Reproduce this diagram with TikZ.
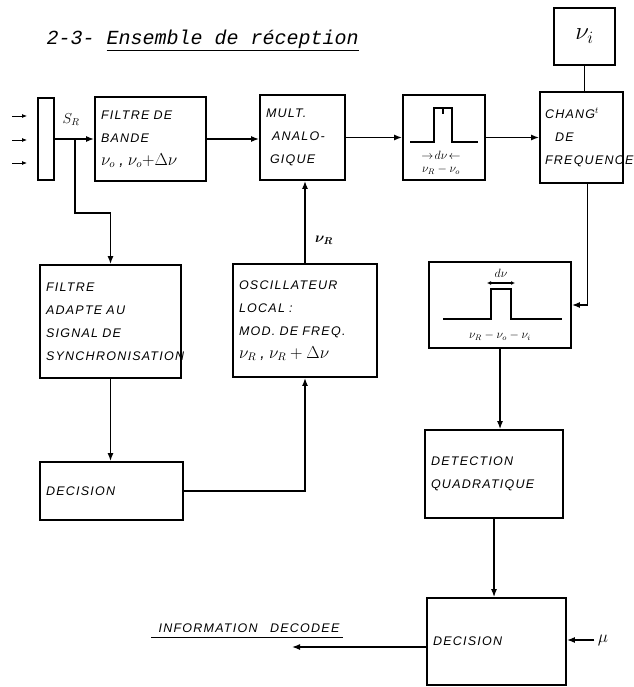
\documentclass[tikz,border=0pt]{standalone}
\usepackage{bm}
\usepackage{fontspec}
\setmainfont{Liberation Sans}
\newfontfamily\titlefont{Liberation Mono}
\newfontfamily\handfont{Liberation Sans}[LetterSpace=10]
\usetikzlibrary{arrows.meta, positioning, calc}

\begin{document}
\begin{tikzpicture}[x=1pt, y=-1pt,
    >={Latex[length=8pt,width=6pt]},
    every node/.style={font=\handfont\itshape\fontsize{12.5}{23}\selectfont},
    blk/.style={draw, rectangle, line width=1.8pt, inner sep=6pt, align=left},
    link/.style={->, line width=1.3pt},
    spec/.style={line width=1.1pt},
    small/.style={font=\fontsize{12}{12}\selectfont}
  ]
  \useasboundingbox (0,0) rectangle (633,687);

  \node[anchor=base west, font=\titlefont\itshape\fontsize{20}{20}\selectfont] (title) at (43,45)
    {2-3- \underline{Ensemble de réception}};

  \node[blk, minimum width=16, minimum height=82, inner sep=0pt] (bar) at (46,139) {};
  \node (sr) at (71,120) {\Large$S_R$};
  \node[blk, text width=99, minimum height=84] (filtre) at (150.5,139)
    {FILTRE DE\\ BANDE\\ \fontsize{16}{23}\selectfont$\nu_o$ , $\nu_o{+}\Delta\nu$};
  \node[blk, text width=73, minimum height=85] (mult) at (302.5,137.5)
    {MULT.\\ \hspace{6pt}ANALO-\\ \hspace{4pt}GIQUE};
  \node[blk, minimum width=82, minimum height=85] (spec1) at (444,137.5) {};
  \node[blk, text width=73, inner sep=5pt, minimum height=91] (chang) at (581.5,137.5)
    {CHANG$^{t}$\\ \hspace{10pt}DE\\ FREQUENCE};
  \node[blk, minimum width=61, minimum height=57, font=\fontsize{24}{24}\selectfont] (nui) at (584.5,36.5) {$\nu_i$};

  \node[blk, text width=129, minimum height=113] (adapt) at (110.5,321.5)
    {FILTRE\\ ADAPTE AU\\ SIGNAL DE\\ SYNCHRONISATION};
  \node[blk, text width=132, minimum height=113] (osc) at (305,320.5)
    {OSCILLATEUR\\ LOCAL :\\ MOD. DE FREQ.\\ \fontsize{16}{23}\selectfont$\nu_R$ , $\nu_R+\Delta\nu$};
  \node (nur) at (324,240) {\Large$\bm{\nu}_{\bm{R}}$};
  \node[blk, minimum width=142, minimum height=86] (spec2) at (500,305) {};

  \node[blk, text width=131, minimum height=58] (dec1) at (111.5,491) {DECISION};
  \node[blk, text width=126, minimum height=88] (detect) at (494,474) {DETECTION\\ QUADRATIQUE};
  \node[blk, text width=127, minimum height=87] (dec2) at (496.5,641.5) {DECISION};
  \node (mu) at (603,640) {\LARGE$\mu$};
  \node[anchor=base west] (info) at (155,632) {INFORMATION\quad DECODEE};
  \coordinate (out) at (292,647);

  \draw[spec] (410,142) -- (434,142) -- (434,108) -- (452,108) -- (452,142) -- (478,142);
  \draw[spec] (443,108) -- (443,114);
  \node[small] (dnu) at (441,155) {$\rightarrow\! d\nu\! \leftarrow$};
  \node[small] (dfreq) at (441,170) {$\nu_R - \nu_o$};

  \draw[spec] (443,319) -- (491,319) -- (491,289) -- (511,289) -- (511,319) -- (562,319);
  \draw[spec, <->, >={Latex[length=4pt,width=4pt]}] (487,283) -- (515,283);
  \node[small] (dnu2) at (501,273) {\large$d\nu$};
  \node (dfreq2) at (500,336) {\large$\nu_R - \nu_o - \nu_i$};

  \foreach \dy in {-23,1,24}
    \draw[->, line width=0.9pt, >={Latex[length=5pt,width=4pt]}] ($(bar.west)+(-25,\dy)$) -- ++(15,0);
  \coordinate (split) at (75,139);
  \coordinate (jog) at (75,213);
  \draw[link] (bar) -- (filtre);
  \draw[link] (split) -- (jog) -| (adapt.north);
  \draw[link] (filtre.east) -- (filtre.east -| mult.west);
  \draw[link] (mult.east) -- (mult.east -| spec1.west);
  \draw[link] (spec1.east) -- (spec1.east -| chang.west);
  \draw[line width=1.8pt] (nui.south) -- (nui.south |- chang.north);
  \draw[link] ([xshift=6pt]chang.south) |- (spec2.east);
  \draw[link] (spec2.south) -- (spec2.south |- detect.north);
  \draw[link] (detect.south) -- (detect.south |- dec2.north);
  \draw[link] (adapt.south) -- (adapt.south |- dec1.north);
  \draw[link, line width=2.4pt] (dec1.east) -| (osc.south);
  \draw[link] (osc.north) -- (osc.north |- mult.south);
  \draw[link] (dec2.west |- out) -- (out);
  \draw[link] (mu) -- (mu -| dec2.east);
  \draw[line width=0.9pt] ([xshift=-4pt,yshift=-5pt]info.base west) -- ([yshift=-5pt]info.base east);
\end{tikzpicture}
\end{document}
